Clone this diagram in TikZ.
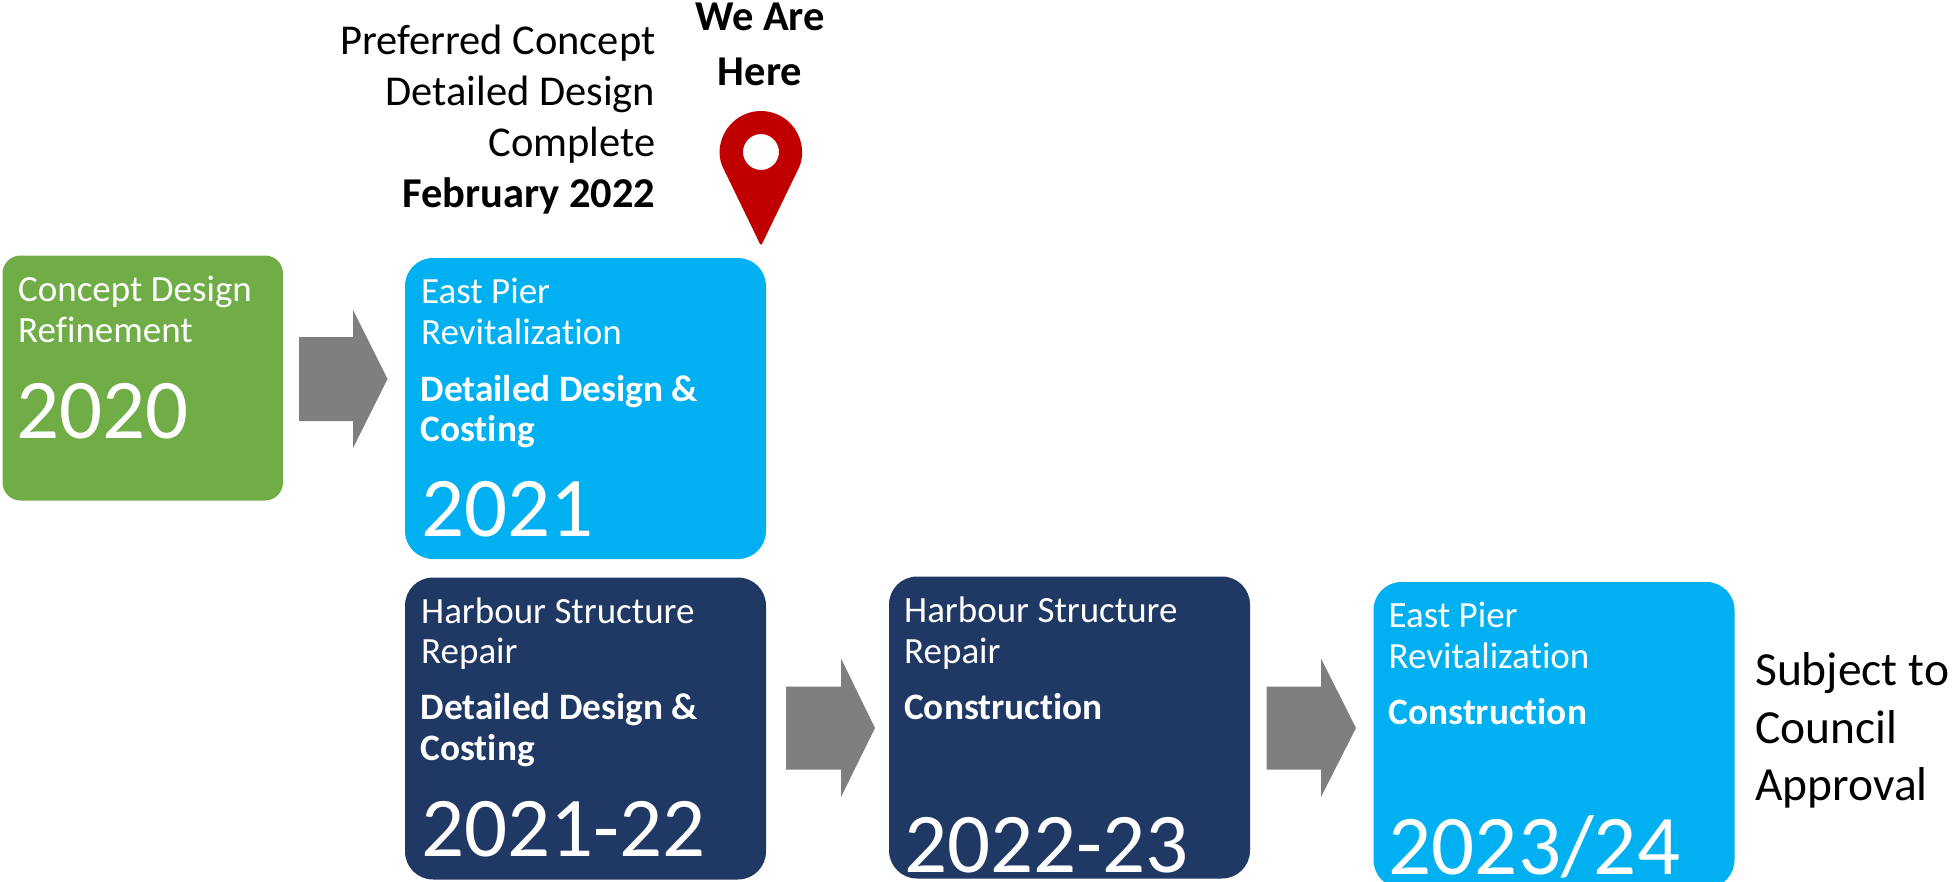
\documentclass[tikz,border=0pt]{standalone}
\usepackage{fontspec}
\setmainfont[Ligatures={NoCommon,NoContextual}]{Carlito}
\definecolor{cgreen}{HTML}{70AD47}
\definecolor{cblue}{HTML}{00B0F0}
\definecolor{cnavy}{HTML}{203864}
\definecolor{cgrey}{HTML}{7F7F7F}
\definecolor{cred}{HTML}{C00000}
\tikzset{
  x=1pt,y=1pt,
  card/.style={anchor=north west,inner sep=0pt,outer sep=0pt,draw=none,fill=#1,rounded corners=28pt},
  body/.style={anchor=base west,inner sep=0pt,text=white,font=\fontsize{37}{44}\selectfont},
  strong/.style={anchor=base west,inner sep=0pt,text=white,font=\fontsize{37.3}{44}\selectfont\bfseries},
  year/.style={anchor=base west,inner sep=0pt,text=white,font=\fontsize{85}{100}\selectfont},
  note/.style={anchor=base east,inner sep=0pt,text=black,font=\fontsize{42.5}{50}\selectfont},
  notebold/.style={inner sep=0pt,text=black,font=\fontsize{42.5}{50}\selectfont\bfseries},
  side/.style={anchor=base west,inner sep=0pt,text=black,font=\fontsize{47.5}{56}\selectfont},
  flow/.style={fill=cgrey,draw=none}
}
\begin{document}
\begin{tikzpicture}
\useasboundingbox (0,-881) rectangle (1952,0);
\clip (0,-881) rectangle (1952,0);
% boxes
\node[card=cgreen,rounded corners=18pt,minimum width=280.5pt,minimum height=245pt] (b2020) at (2.5,-255.5) {};
\node[card=cblue,minimum width=361pt,minimum height=301pt] (b2021) at (405,-258) {};
\node[card=cnavy,minimum width=361pt,minimum height=302pt] (b2122) at (405,-577.5) {};
\node[card=cnavy,minimum width=361pt,minimum height=302pt] (b2223) at (889,-576.5) {};
\node[card=cblue,minimum width=361pt,minimum height=306pt] (b2324) at (1373.5,-582) {};
% block arrows
\fill[flow] (299,-337) -- (353,-337) -- (353,-310) -- (387.5,-379) -- (353,-448) -- (353,-421) -- (299,-421) -- cycle;
\fill[flow] (786,-686.5) -- (841,-686.5) -- (841,-658.5) -- (875,-728) -- (841,-797) -- (841,-769.5) -- (786,-769.5) -- cycle;
\fill[flow] (1266.5,-686.5) -- (1321,-686.5) -- (1321,-658.5) -- (1356,-728) -- (1321,-797) -- (1321,-769.5) -- (1266.5,-769.5) -- cycle;
% pin
\fill[cred,even odd rule,rounded corners=2.5pt] (761,-246) -- (724.2,-170.1) arc[start angle=206.2,end angle=-26.2,radius=41] -- cycle
  (779,-152) arc[start angle=0,end angle=360,radius=18];
% box texts
\node[body] (t1) at (18,-301) {Concept Design};
\node[body] (t2) at (18,-342) {Refinement};
\node[year] (t3) at (16.5,-438) {2020};
\node[body] (t4) at (421,-303) {East Pier};
\node[body] (t5) at (421,-344) {Revitalization};
\node[strong] (t6) at (420.5,-401) {Detailed Design \&};
\node[strong] (t7) at (420.5,-441.5) {Costing};
\node[year] (t8) at (421,-536.5) {2021};
\node[body] (t9) at (421,-623) {Harbour Structure};
\node[body] (t10) at (421,-663) {Repair};
\node[strong] (t11) at (420.5,-719) {Detailed Design \&};
\node[strong] (t12) at (420.5,-760) {Costing};
\node[year] (t13) at (421,-856) {2021-22};
\node[body] (t14) at (904,-622) {Harbour Structure};
\node[body] (t15) at (904,-663) {Repair};
\node[strong] (t16) at (904,-719.5) {Construction};
\node[year] (t17) at (904,-872) {2022-23};
\node[body] (t18) at (1388.5,-627) {East Pier};
\node[body] (t19) at (1388.5,-668.5) {Revitalization};
\node[strong] (t20) at (1388.5,-724) {Construction};
\node[year] (t21) at (1388.5,-874) {2023/24};
% notes
\node[note] (n1) at (655.5,-54) {Preferred Concept};
\node[note] (n2) at (655.5,-105) {Detailed Design};
\node[note] (n3) at (655.5,-156) {Complete};
\node[notebold,anchor=base east] (n4) at (655.5,-207.5) {February 2022};
\node[notebold,anchor=base] (h1) at (760,-30.5) {We Are};
\node[notebold,anchor=base] (h2) at (760,-85) {Here};
\node[side] (s1) at (1755,-685) {Subject to};
\node[side] (s2) at (1755,-743) {Council};
\node[side] (s3) at (1755,-800) {Approval};
\end{tikzpicture}
\end{document}
